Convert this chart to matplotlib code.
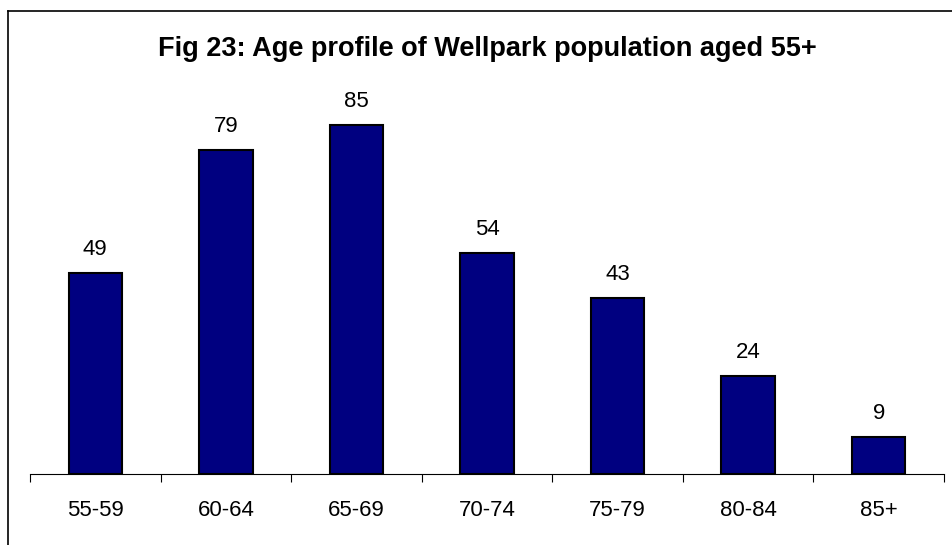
import matplotlib
matplotlib.use("Agg")
import matplotlib.pyplot as plt
from matplotlib.lines import Line2D
import numpy as np

categories = ["55-59", "60-64", "65-69", "70-74", "75-79", "80-84", "85+"]
values = [49, 79, 85, 54, 43, 24, 9]
title = "Fig 23: Age profile of Wellpark population aged 55+"

plt.rcParams['font.family'] = ['Liberation Sans', 'DejaVu Sans']

W, H = 953, 545
fig = plt.figure(figsize=(W / 100, H / 100), dpi=100)
fig.patch.set_facecolor("white")

ax_left, ax_right, ax_bottom_px, ax_top_px = 30, 944, 474, 105
ax = fig.add_axes([ax_left / W, 1 - ax_bottom_px / H,
                   (ax_right - ax_left) / W, (ax_bottom_px - ax_top_px) / H])

x = np.arange(len(categories))
bars = ax.bar(x, values, width=0.41, color="#000080", edgecolor="black", linewidth=1.5, zorder=3)
ax.set_xlim(-0.5, len(categories) - 0.5)
ax.set_ylim(0, 90)

for xi, v in zip(x, values):
    ax.annotate(str(v), (xi, v), xytext=(0, 13), textcoords="offset points",
                ha="center", va="baseline", fontsize=16)

for s in ["top", "right", "left"]:
    ax.spines[s].set_visible(False)
ax.spines["bottom"].set_color("black")
ax.spines["bottom"].set_linewidth(0.8)
ax.set_yticks([])
ax.set_xticks(x)
ax.set_xticklabels(categories, fontsize=16)
ax.tick_params(axis="x", length=0, pad=18.5)
ax.set_xticks(np.arange(-0.5, len(categories)), minor=True)
ax.tick_params(axis="x", which="minor", length=6, width=0.8, direction="out")

fig.text(487 / W, 1 - 56 / H, title, ha="center", va="baseline", fontsize=19.5, fontweight="bold")

fig.add_artist(Line2D([8 / W, 1.0], [1 - 11 / H, 1 - 11 / H], transform=fig.transFigure, color="black", linewidth=1.2))
fig.add_artist(Line2D([8 / W, 8 / W], [0, 1 - 11 / H], transform=fig.transFigure, color="black", linewidth=1.2))

fig.savefig("out.png", dpi=100)
